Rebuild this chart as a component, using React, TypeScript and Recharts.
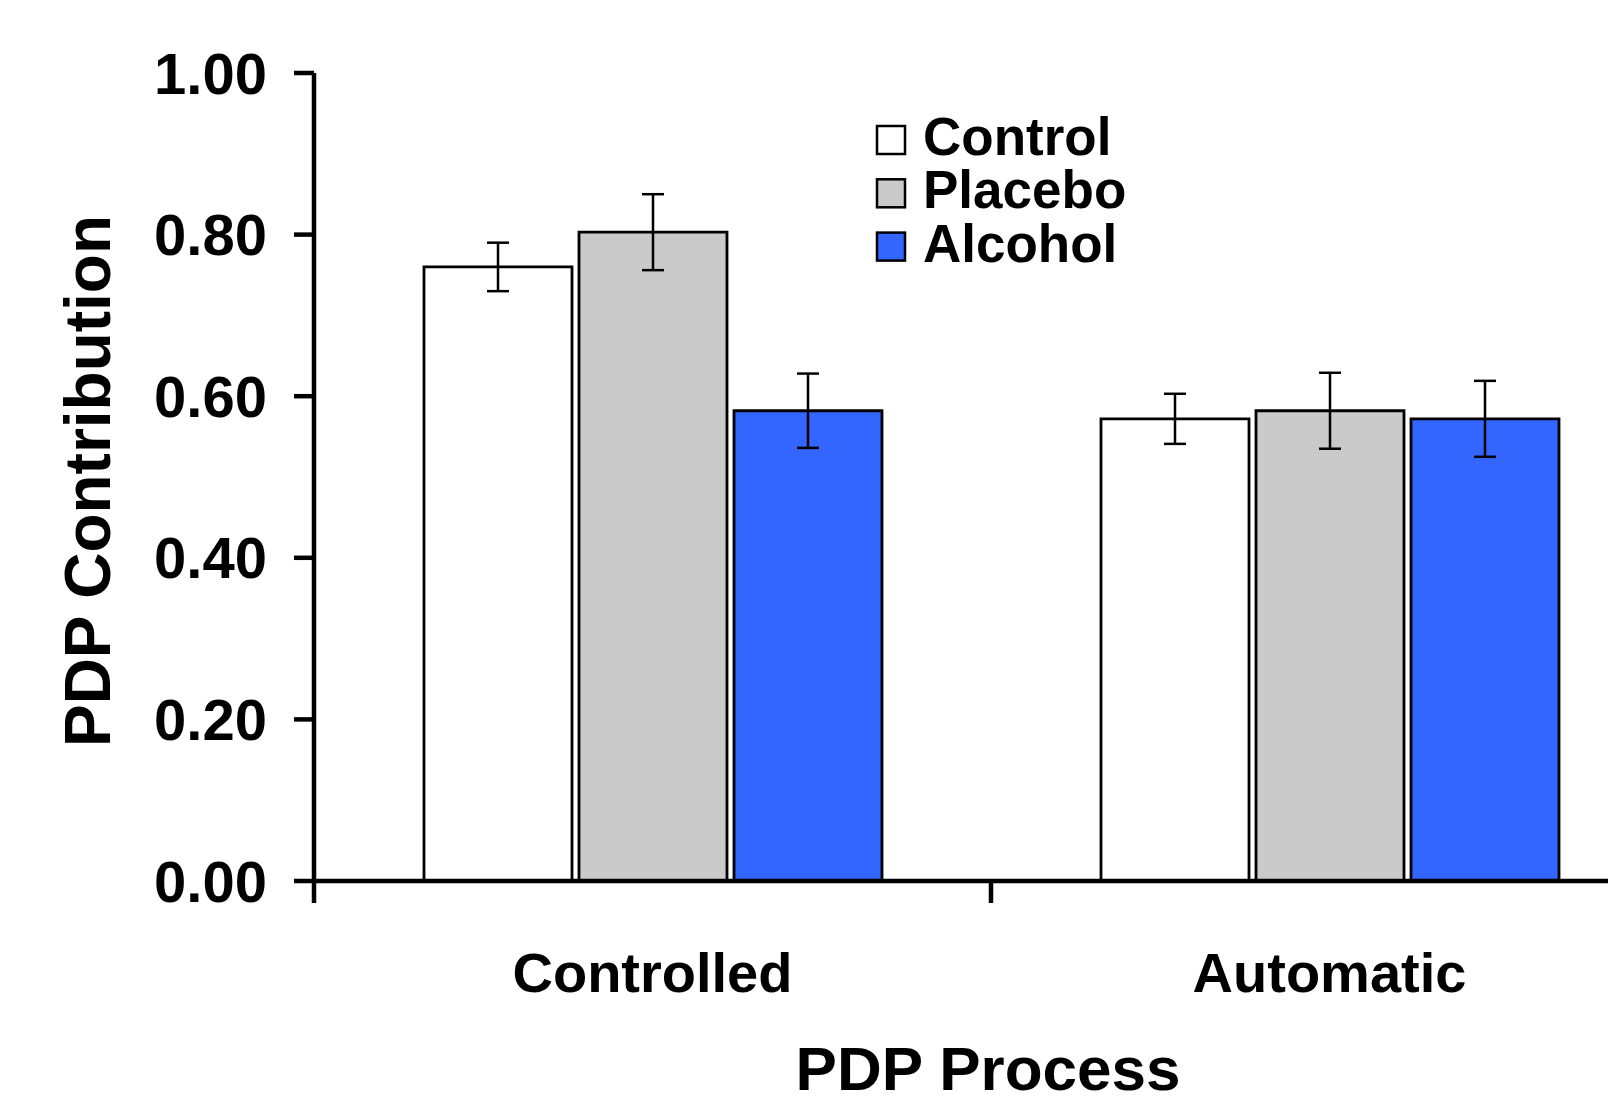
import React from 'react';
import { BarChart, Bar, XAxis, YAxis, ErrorBar, Legend } from 'recharts';

const categories = ['Controlled', 'Automatic'];
const controlValues = [0.76, 0.572];
const controlErrors = [0.03, 0.031];
const placeboValues = [0.803, 0.582];
const placeboErrors = [0.047, 0.047];
const alcoholValues = [0.582, 0.572];
const alcoholErrors = [0.046, 0.047];
const yTicks = [0, 0.2, 0.4, 0.6, 0.8, 1.0];
const seriesNames = ['Control', 'Placebo', 'Alcohol'];
const seriesColors = ['#ffffff', '#cacaca', '#3366ff'];
const xAxisTitle = 'PDP Process';
const yAxisTitle = 'PDP Contribution';

const FONT = '"Liberation Sans", Arial, Helvetica, sans-serif';

const data = categories.map((c, i) => ({
  category: c,
  Control: controlValues[i],
  ControlErr: controlErrors[i],
  Placebo: placeboValues[i],
  PlaceboErr: placeboErrors[i],
  Alcohol: alcoholValues[i],
  AlcoholErr: alcoholErrors[i],
}));

const XTick = (props: any) => {
  const { x, y, payload } = props;
  const half = payload && typeof payload.offset === 'number' ? payload.offset : 0;
  return (
    <g>
      <line x1={x - half} x2={x - half} y1={y} y2={y + 22} stroke="#000" strokeWidth={4.5} />
      <text
        x={x}
        y={y + 111}
        textAnchor="middle"
        fontFamily={FONT}
        fontWeight="bold"
        fontSize={56}
        fill="#000"
      >
        {payload.value}
      </text>
    </g>
  );
};

const YTitle = (props: any) => {
  const vb = props.viewBox || {};
  const cx = vb.x - 4;
  const cy = vb.y + vb.height / 2 + 4;
  return (
    <text
      x={cx}
      y={cy}
      transform={`rotate(-90, ${cx}, ${cy})`}
      textAnchor="middle"
      fontFamily={FONT}
      fontWeight="bold"
      fontSize={64}
      fill="#000"
    >
      {yAxisTitle}
    </text>
  );
};

const XTitle = (props: any) => {
  const vb = props.viewBox || {};
  const cx = vb.x + vb.width / 2 - 3;
  const cy = vb.y + 209;
  return (
    <text
      x={cx}
      y={cy}
      textAnchor="middle"
      fontFamily={FONT}
      fontWeight="bold"
      fontSize={62}
      fill="#000"
    >
      {xAxisTitle}
    </text>
  );
};

const LegendContent = () => (
  <svg width={320} height={180} style={{ display: 'block', overflow: 'visible' }}>
    {seriesNames.map((name, i) => (
      <g key={name}>
        <rect
          x={9}
          y={17 + i * 53.3}
          width={28}
          height={28}
          fill={seriesColors[i]}
          stroke="#000"
          strokeWidth={2.5}
        />
        <text
          x={55}
          y={46 + i * 53.3}
          fontFamily={FONT}
          fontWeight="bold"
          fontSize={53}
          fill="#000"
        >
          {name}
        </text>
      </g>
    ))}
  </svg>
);

export default function App() {
  return (
    <div
      style={{
        position: 'fixed',
        left: 0,
        top: 0,
        width: 1608,
        height: 1104,
        overflow: 'hidden',
        background: '#fff',
      }}
    >
      <BarChart
        width={1710}
        height={1104}
        data={data}
        margin={{ top: 73, right: 42, left: 114, bottom: 73 }}
        barCategoryGap={110}
        barGap={7}
      >
        <XAxis
          dataKey="category"
          height={150}
          axisLine={{ stroke: '#000', strokeWidth: 4.5 }}
          tickLine={false}
          tickSize={0}
          tickMargin={0}
          tick={<XTick />}
          interval={0}
          label={<XTitle />}
        />
        <YAxis
          width={200}
          domain={[0, 1]}
          ticks={yTicks}
          allowDataOverflow
          tickFormatter={(v: number) => v.toFixed(2)}
          axisLine={{ stroke: '#000', strokeWidth: 4.5 }}
          tickLine={{ stroke: '#000', strokeWidth: 4.5 }}
          tickSize={20}
          tickMargin={27}
          tick={{ fontFamily: FONT, fontWeight: 'bold', fontSize: 58, fill: '#000' }}
          label={<YTitle />}
        />
        <Legend
          layout="vertical"
          align="center"
          verticalAlign="middle"
          content={<LegendContent />}
          wrapperStyle={{ left: 868, top: 109, width: 320, height: 180 }}
        />
        {seriesNames.map((name, i) => (
          <Bar
            key={name}
            dataKey={name}
            name={name}
            fill={seriesColors[i]}
            stroke="#000"
            strokeWidth={2.8}
            isAnimationActive={false}
          >
            <ErrorBar dataKey={`${name}Err`} width={11} stroke="#000" strokeWidth={2.5} direction="y" />
          </Bar>
        ))}
      </BarChart>
    </div>
  );
}
